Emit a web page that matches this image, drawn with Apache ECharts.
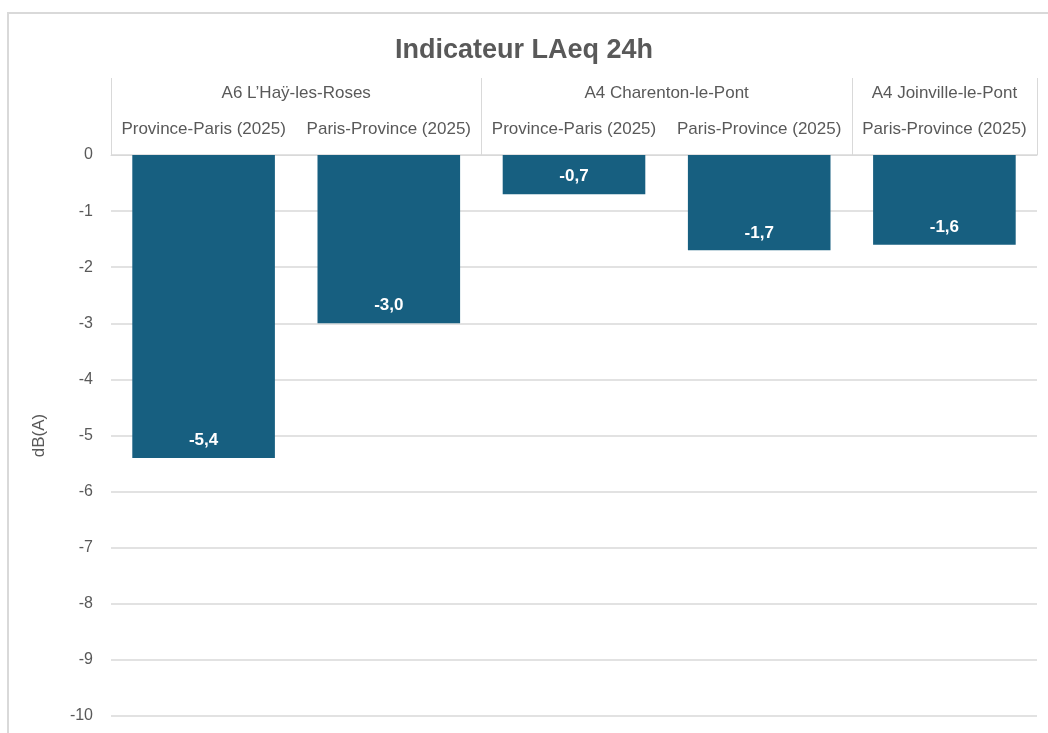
<!DOCTYPE html>
<html>
<head>
<meta charset="utf-8">
<script src="https://cdn.jsdelivr.net/npm/echarts@6/dist/echarts.min.js"></script>
<style>
    html, body { margin: 0; padding: 0; background: #fff; }
    #frame {
        position: absolute;
        left: 7px;
        top: 12px;
        width: 1100px;
        height: 800px;
        border: 1px solid #d9d9d9;
        border-width: 2px 0 0 2px;
    }
    #chart { position: absolute; left: 0; top: 0; width: 1048px; height: 733px; }
</style>
</head>
<body>
<div id="frame"></div>
<div id="chart"></div>
<script>
// sous-catégories (sens de circulation)
const directions = [
    "Province-Paris (2025)",
    "Paris-Province (2025)",
    "Province-Paris (2025)",
    "Paris-Province (2025)",
    "Paris-Province (2025)",
]
// groupes (sites) et leurs bornes sur l'axe
const groups = ["A6 L\u2019Ha\u00ff-les-Roses", "A4 Charenton-le-Pont", "A4 Joinville-le-Pont"]
const groupCenters = [1, 3, 4.5]
const groupBounds = [0, 2, 4, 5]
// écart LAeq 24h en dB(A)
const values = [-5.4, -3.0, -0.7, -1.7, -1.6]
const yTicks = [0, -1, -2, -3, -4, -5, -6, -7, -8, -9, -10]

const textColor = "#595959"
const lineColor = "#d9d9d9"
const barColor = "#175f80"
const font = "Liberation Sans, Arial, sans-serif"

const chart = echarts.init(document.getElementById("chart"))

chart.setOption({
    animation: false,
    backgroundColor: "transparent",
    textStyle: { fontFamily: font },
    title: {
        text: "Indicateur LAeq 24h",
        left: "center",
        top: 32,
        textStyle: {
            fontSize: 27,
            fontWeight: "bold",
            color: textColor,
            fontFamily: font,
        },
    },
    grid: {
        left: 111,
        right: 11,
        top: 155,
        bottom: 17,
    },
    xAxis: [
        {
            type: "category",
            position: "top",
            offset: 0,
            data: directions,
            axisLine: { show: true, lineStyle: { color: lineColor, width: 1 } },
            axisTick: { show: false },
            axisLabel: {
                interval: 0,
                margin: 17,
                fontSize: 17,
                color: textColor,
            },
        },
        {
            type: "value",
            position: "top",
            offset: 0,
            min: 0,
            max: 5,
            axisLine: { show: false },
            splitLine: { show: false },
            axisTick: {
                show: true,
                customValues: groupBounds,
                length: 77,
                lineStyle: { color: lineColor, width: 1 },
            },
            axisLabel: {
                customValues: groupCenters,
                margin: 53,
                fontSize: 17,
                color: textColor,
                formatter: value => groups[groupCenters.indexOf(value)] ?? "",
            },
        },
    ],
    yAxis: {
        type: "value",
        min: Math.min(...yTicks),
        max: Math.max(...yTicks),
        interval: 1,
        name: "dB(A)",
        nameLocation: "middle",
        nameRotate: 90,
        nameGap: 63,
        nameTextStyle: { fontSize: 17, color: textColor },
        axisLine: { show: false },
        axisTick: { show: false },
        axisLabel: {
            margin: 18,
            fontSize: 16,
            color: textColor,
        },
        splitLine: { show: true, lineStyle: { color: lineColor, width: 1.5 } },
    },
    series: [
        {
            type: "bar",
            xAxisIndex: 0,
            data: values,
            barCategoryGap: "23%",
            itemStyle: { color: barColor },
            label: {
                show: true,
                position: "insideBottom",
                distance: 9,
                color: "#fff",
                fontWeight: "bold",
                fontSize: 17,
                formatter: p => p.value.toFixed(1).replace(".", ","),
            },
        },
    ],
})
</script>
</body>
</html>
